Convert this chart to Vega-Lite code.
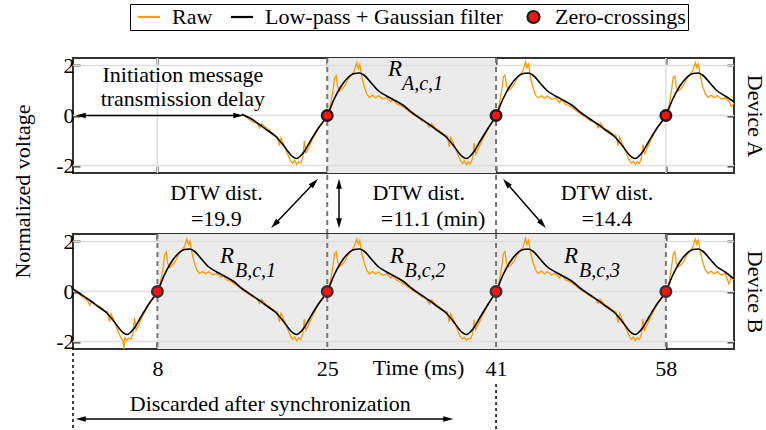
{
"$schema":"https://vega.github.io/schema/vega-lite/v6.json",
"padding":{"left":9,"top":3,"right":0,"bottom":0},
"bounds":"flush",
"spacing":61,
"config":{
 "font":"Liberation Serif",
 "view":{"stroke":"#333","strokeWidth":2},
 "axis":{"domain":false,"grid":false,"labelFont":"Liberation Serif","labelFontSize":22,"labelColor":"#000","titleFont":"Liberation Serif","titleFontSize":22,"titleFontWeight":"normal","titleColor":"#000","tickColor":"#333","tickWidth":2,"tickSize":-7,"labelPadding":6},
 "legend":{"labelFont":"Liberation Serif","labelFontSize":22,"labelColor":"#000"},
 "text":{"font":"Liberation Serif","fontSize":22,"color":"#000"}
},
"resolve":{"scale":{"fill":"shared","stroke":"shared","shape":"shared"},"legend":{"fill":"shared","stroke":"shared","shape":"shared"}},
"datasets":{
 "zcA":[{"t":25.0,"v":0},{"t":41.6,"v":0},{"t":58.3,"v":0}],
 "zcB":[{"t":8.3,"v":0},{"t":25.0,"v":0},{"t":41.6,"v":0},{"t":58.3,"v":0}],
 "filtA":[
{"t":16.6,"v":0.05},{"t":17.47,"v":-0.12},{"t":18.3,"v":-0.35},{"t":19.13,"v":-0.6},{"t":19.97,"v":-0.85},{"t":20.8,"v":-1.25},{"t":21.47,"v":-1.6},{"t":21.97,"v":-1.72},{"t":22.63,"v":-1.5},{"t":23.3,"v":-1.05},{"t":24.13,"v":-0.5},
{"t":25.0,"v":0},{"t":25.67,"v":0.65},{"t":26.33,"v":1.15},{"t":27.0,"v":1.5},{"t":27.67,"v":1.68},{"t":28.17,"v":1.7},{"t":28.67,"v":1.6},{"t":29.33,"v":1.3},{"t":30.0,"v":1.0},{"t":30.83,"v":0.78},{"t":31.67,"v":0.6},{"t":32.5,"v":0.4},{"t":33.33,"v":0.12},{"t":34.17,"v":-0.12},{"t":35.0,"v":-0.35},{"t":35.83,"v":-0.6},{"t":36.67,"v":-0.85},{"t":37.5,"v":-1.25},{"t":38.17,"v":-1.6},{"t":38.67,"v":-1.72},{"t":39.33,"v":-1.5},{"t":40.0,"v":-1.05},{"t":40.83,"v":-0.5},
{"t":41.6,"v":0},{"t":42.27,"v":0.65},{"t":42.93,"v":1.15},{"t":43.6,"v":1.5},{"t":44.27,"v":1.68},{"t":44.77,"v":1.7},{"t":45.27,"v":1.6},{"t":45.93,"v":1.3},{"t":46.6,"v":1.0},{"t":47.43,"v":0.78},{"t":48.27,"v":0.6},{"t":49.1,"v":0.4},{"t":49.93,"v":0.12},{"t":50.77,"v":-0.12},{"t":51.6,"v":-0.35},{"t":52.43,"v":-0.6},{"t":53.27,"v":-0.85},{"t":54.1,"v":-1.25},{"t":54.77,"v":-1.6},{"t":55.27,"v":-1.72},{"t":55.93,"v":-1.5},{"t":56.6,"v":-1.05},{"t":57.43,"v":-0.5},
{"t":58.3,"v":0},{"t":58.97,"v":0.65},{"t":59.63,"v":1.15},{"t":60.3,"v":1.5},{"t":60.97,"v":1.68},{"t":61.47,"v":1.7},{"t":61.97,"v":1.6},{"t":62.63,"v":1.3},{"t":63.3,"v":1.0},{"t":64.13,"v":0.78},{"t":65.0,"v":0.55}
 ],
 "filtB":[
{"t":0,"v":0.1},{"t":0.8,"v":-0.12},{"t":1.63,"v":-0.35},{"t":2.46,"v":-0.6},{"t":3.3,"v":-0.85},{"t":4.13,"v":-1.25},{"t":4.8,"v":-1.6},{"t":5.3,"v":-1.72},{"t":5.96,"v":-1.5},{"t":6.63,"v":-1.05},{"t":7.46,"v":-0.5},
{"t":8.3,"v":0},{"t":8.97,"v":0.65},{"t":9.63,"v":1.15},{"t":10.3,"v":1.5},{"t":10.97,"v":1.68},{"t":11.47,"v":1.7},{"t":11.97,"v":1.6},{"t":12.63,"v":1.3},{"t":13.3,"v":1.0},{"t":14.13,"v":0.78},{"t":14.97,"v":0.6},{"t":15.8,"v":0.4},{"t":16.63,"v":0.12},{"t":17.47,"v":-0.12},{"t":18.3,"v":-0.35},{"t":19.13,"v":-0.6},{"t":19.97,"v":-0.85},{"t":20.8,"v":-1.25},{"t":21.47,"v":-1.6},{"t":21.97,"v":-1.72},{"t":22.63,"v":-1.5},{"t":23.3,"v":-1.05},{"t":24.13,"v":-0.5},
{"t":25.0,"v":0},{"t":25.67,"v":0.65},{"t":26.33,"v":1.15},{"t":27.0,"v":1.5},{"t":27.67,"v":1.68},{"t":28.17,"v":1.7},{"t":28.67,"v":1.6},{"t":29.33,"v":1.3},{"t":30.0,"v":1.0},{"t":30.83,"v":0.78},{"t":31.67,"v":0.6},{"t":32.5,"v":0.4},{"t":33.33,"v":0.12},{"t":34.17,"v":-0.12},{"t":35.0,"v":-0.35},{"t":35.83,"v":-0.6},{"t":36.67,"v":-0.85},{"t":37.5,"v":-1.25},{"t":38.17,"v":-1.6},{"t":38.67,"v":-1.72},{"t":39.33,"v":-1.5},{"t":40.0,"v":-1.05},{"t":40.83,"v":-0.5},
{"t":41.6,"v":0},{"t":42.27,"v":0.65},{"t":42.93,"v":1.15},{"t":43.6,"v":1.5},{"t":44.27,"v":1.68},{"t":44.77,"v":1.7},{"t":45.27,"v":1.6},{"t":45.93,"v":1.3},{"t":46.6,"v":1.0},{"t":47.43,"v":0.78},{"t":48.27,"v":0.6},{"t":49.1,"v":0.4},{"t":49.93,"v":0.12},{"t":50.77,"v":-0.12},{"t":51.6,"v":-0.35},{"t":52.43,"v":-0.6},{"t":53.27,"v":-0.85},{"t":54.1,"v":-1.25},{"t":54.77,"v":-1.6},{"t":55.27,"v":-1.72},{"t":55.93,"v":-1.5},{"t":56.6,"v":-1.05},{"t":57.43,"v":-0.5},
{"t":58.3,"v":0},{"t":58.97,"v":0.65},{"t":59.63,"v":1.15},{"t":60.3,"v":1.5},{"t":60.97,"v":1.68},{"t":61.47,"v":1.7},{"t":61.97,"v":1.6},{"t":62.63,"v":1.3},{"t":63.3,"v":1.0},{"t":64.13,"v":0.78},{"t":65.0,"v":0.5}
 ],
 "rawA":[
{"t":16.6,"v":0.05},{"t":17.1,"v":-0.08},{"t":17.6,"v":-0.25},{"t":18.1,"v":-0.3},{"t":18.35,"v":-0.5},{"t":18.55,"v":-0.33},{"t":18.95,"v":-0.48},{"t":19.35,"v":-0.6},{"t":19.75,"v":-0.78},{"t":20.1,"v":-0.85},{"t":20.3,"v":-1.2},{"t":20.45,"v":-0.9},{"t":20.75,"v":-1.2},{"t":21.1,"v":-1.55},{"t":21.4,"v":-1.82},{"t":21.6,"v":-1.9},{"t":21.8,"v":-1.8},{"t":22.0,"v":-1.95},{"t":22.2,"v":-1.85},{"t":22.4,"v":-1.9},{"t":22.6,"v":-1.7},{"t":22.75,"v":-1.0},{"t":22.9,"v":-1.5},{"t":23.2,"v":-1.28},{"t":23.55,"v":-0.95},{"t":23.95,"v":-0.65},{"t":24.35,"v":-0.4},{"t":24.7,"v":-0.18},
{"t":25.0,"v":0.02},{"t":25.3,"v":0.35},{"t":25.55,"v":0.95},{"t":25.72,"v":1.5},{"t":25.88,"v":1.6},{"t":26.02,"v":1.15},{"t":26.2,"v":0.98},{"t":26.45,"v":1.05},{"t":26.75,"v":1.2},{"t":27.05,"v":1.45},{"t":27.35,"v":1.6},{"t":27.65,"v":1.78},{"t":27.9,"v":2.12},{"t":28.05,"v":1.88},{"t":28.2,"v":2.05},{"t":28.4,"v":1.55},{"t":28.65,"v":1.15},{"t":28.9,"v":0.85},{"t":29.15,"v":0.72},{"t":29.45,"v":0.82},{"t":29.75,"v":0.7},{"t":30.05,"v":0.8},{"t":30.45,"v":0.66},{"t":30.85,"v":0.72},{"t":31.25,"v":0.55},{"t":31.45,"v":0.66},{"t":31.85,"v":0.46},{"t":32.3,"v":0.38},{"t":32.8,"v":0.24},{"t":33.3,"v":0.08},{"t":33.8,"v":-0.05},{"t":34.3,"v":-0.2},{"t":34.8,"v":-0.3},{"t":35.05,"v":-0.48},{"t":35.25,"v":-0.32},{"t":35.65,"v":-0.5},{"t":36.05,"v":-0.62},{"t":36.45,"v":-0.75},{"t":36.8,"v":-0.82},{"t":37.0,"v":-1.25},{"t":37.15,"v":-0.88},{"t":37.45,"v":-1.15},{"t":37.8,"v":-1.5},{"t":38.1,"v":-1.8},{"t":38.3,"v":-1.92},{"t":38.5,"v":-1.82},{"t":38.7,"v":-1.96},{"t":38.9,"v":-1.86},{"t":39.1,"v":-1.92},{"t":39.3,"v":-1.7},{"t":39.45,"v":-1.1},{"t":39.6,"v":-1.55},{"t":39.9,"v":-1.3},{"t":40.25,"v":-0.98},{"t":40.65,"v":-0.66},{"t":41.05,"v":-0.38},{"t":41.4,"v":-0.15},
{"t":41.6,"v":0.02},{"t":41.9,"v":0.4},{"t":42.15,"v":1.0},{"t":42.32,"v":1.55},{"t":42.48,"v":1.62},{"t":42.62,"v":1.2},{"t":42.8,"v":1.0},{"t":43.05,"v":1.08},{"t":43.35,"v":1.22},{"t":43.65,"v":1.48},{"t":43.95,"v":1.62},{"t":44.25,"v":1.8},{"t":44.5,"v":2.15},{"t":44.65,"v":1.9},{"t":44.8,"v":2.05},{"t":45.0,"v":1.5},{"t":45.25,"v":1.1},{"t":45.5,"v":0.8},{"t":45.75,"v":0.7},{"t":46.05,"v":0.8},{"t":46.35,"v":0.68},{"t":46.65,"v":0.78},{"t":47.05,"v":0.65},{"t":47.45,"v":0.7},{"t":47.85,"v":0.52},{"t":48.05,"v":0.64},{"t":48.45,"v":0.44},{"t":48.9,"v":0.36},{"t":49.4,"v":0.22},{"t":49.9,"v":0.06},{"t":50.4,"v":-0.06},{"t":50.9,"v":-0.22},{"t":51.4,"v":-0.3},{"t":51.65,"v":-0.5},{"t":51.85,"v":-0.3},{"t":52.25,"v":-0.52},{"t":52.65,"v":-0.6},{"t":53.05,"v":-0.74},{"t":53.4,"v":-0.8},{"t":53.6,"v":-1.2},{"t":53.75,"v":-0.85},{"t":54.05,"v":-1.15},{"t":54.4,"v":-1.52},{"t":54.7,"v":-1.8},{"t":54.9,"v":-1.9},{"t":55.1,"v":-1.84},{"t":55.3,"v":-1.95},{"t":55.5,"v":-1.85},{"t":55.7,"v":-1.92},{"t":55.9,"v":-1.68},{"t":56.05,"v":-1.15},{"t":56.2,"v":-1.52},{"t":56.5,"v":-1.28},{"t":56.85,"v":-0.96},{"t":57.25,"v":-0.64},{"t":57.65,"v":-0.36},{"t":58.0,"v":-0.14},
{"t":58.3,"v":0.02},{"t":58.6,"v":0.38},{"t":58.85,"v":0.98},{"t":59.02,"v":1.52},{"t":59.18,"v":1.58},{"t":59.32,"v":1.15},{"t":59.5,"v":0.98},{"t":59.75,"v":1.05},{"t":60.05,"v":1.22},{"t":60.35,"v":1.45},{"t":60.65,"v":1.62},{"t":60.95,"v":1.8},{"t":61.2,"v":2.12},{"t":61.35,"v":1.9},{"t":61.5,"v":2.05},{"t":61.7,"v":1.55},{"t":61.95,"v":1.12},{"t":62.2,"v":0.85},{"t":62.45,"v":0.72},{"t":62.75,"v":0.82},{"t":63.05,"v":0.7},{"t":63.35,"v":0.8},{"t":63.75,"v":0.66},{"t":64.15,"v":0.7},{"t":64.55,"v":0.55},{"t":64.75,"v":0.35},{"t":65.0,"v":0.5}
 ],
 "rawB":[
{"t":0.0,"v":0.08},{"t":0.45,"v":-0.05},{"t":0.95,"v":-0.22},{"t":1.4,"v":-0.35},{"t":1.65,"v":-0.55},{"t":1.85,"v":-0.38},{"t":2.25,"v":-0.52},{"t":2.65,"v":-0.62},{"t":3.05,"v":-0.76},{"t":3.4,"v":-0.82},{"t":3.6,"v":-1.2},{"t":3.75,"v":-0.9},{"t":4.05,"v":-1.18},{"t":4.4,"v":-1.55},{"t":4.7,"v":-1.85},{"t":4.9,"v":-1.95},{"t":5.0,"v":-2.3},{"t":5.1,"v":-1.85},{"t":5.3,"v":-1.95},{"t":5.5,"v":-1.86},{"t":5.7,"v":-1.9},{"t":5.9,"v":-1.68},{"t":6.05,"v":-1.05},{"t":6.2,"v":-1.55},{"t":6.5,"v":-1.3},{"t":6.85,"v":-0.98},{"t":7.25,"v":-0.66},{"t":7.65,"v":-0.38},{"t":8.0,"v":-0.15},
{"t":8.3,"v":0.02},{"t":8.6,"v":0.35},{"t":8.85,"v":0.95},{"t":9.02,"v":1.48},{"t":9.18,"v":1.58},{"t":9.32,"v":1.12},{"t":9.5,"v":0.96},{"t":9.75,"v":1.04},{"t":10.05,"v":1.2},{"t":10.35,"v":1.45},{"t":10.65,"v":1.62},{"t":10.95,"v":1.78},{"t":11.2,"v":2.1},{"t":11.35,"v":1.88},{"t":11.5,"v":2.02},{"t":11.7,"v":1.55},{"t":11.95,"v":1.12},{"t":12.2,"v":0.85},{"t":12.45,"v":0.72},{"t":12.75,"v":0.8},{"t":13.05,"v":0.7},{"t":13.35,"v":0.8},{"t":13.75,"v":0.66},{"t":14.15,"v":0.72},{"t":14.55,"v":0.56},{"t":14.75,"v":0.64},{"t":15.15,"v":0.46},{"t":15.6,"v":0.38},{"t":16.1,"v":0.24},{"t":16.6,"v":0.08},{"t":17.1,"v":-0.06},{"t":17.6,"v":-0.2},{"t":18.1,"v":-0.3},{"t":18.35,"v":-0.48},{"t":18.55,"v":-0.32},{"t":18.95,"v":-0.5},{"t":19.35,"v":-0.62},{"t":19.75,"v":-0.75},{"t":20.1,"v":-0.82},{"t":20.3,"v":-1.22},{"t":20.45,"v":-0.88},{"t":20.75,"v":-1.15},{"t":21.1,"v":-1.5},{"t":21.4,"v":-1.8},{"t":21.6,"v":-1.9},{"t":21.8,"v":-1.82},{"t":22.0,"v":-1.96},{"t":22.2,"v":-1.85},{"t":22.4,"v":-1.92},{"t":22.6,"v":-1.7},{"t":22.75,"v":-1.1},{"t":22.9,"v":-1.55},{"t":23.2,"v":-1.3},{"t":23.55,"v":-0.98},{"t":23.95,"v":-0.66},{"t":24.35,"v":-0.38},{"t":24.7,"v":-0.15},
{"t":25.0,"v":0.02},{"t":25.3,"v":0.38},{"t":25.55,"v":0.98},{"t":25.72,"v":1.52},{"t":25.88,"v":1.6},{"t":26.02,"v":1.18},{"t":26.2,"v":1.0},{"t":26.45,"v":1.06},{"t":26.75,"v":1.22},{"t":27.05,"v":1.46},{"t":27.35,"v":1.62},{"t":27.65,"v":1.8},{"t":27.9,"v":2.1},{"t":28.05,"v":1.9},{"t":28.2,"v":2.04},{"t":28.4,"v":1.52},{"t":28.65,"v":1.12},{"t":28.9,"v":0.84},{"t":29.15,"v":0.7},{"t":29.45,"v":0.8},{"t":29.75,"v":0.7},{"t":30.05,"v":0.78},{"t":30.45,"v":0.65},{"t":30.85,"v":0.7},{"t":31.25,"v":0.54},{"t":31.45,"v":0.64},{"t":31.85,"v":0.45},{"t":32.3,"v":0.36},{"t":32.8,"v":0.22},{"t":33.3,"v":0.07},{"t":33.8,"v":-0.06},{"t":34.3,"v":-0.2},{"t":34.8,"v":-0.32},{"t":35.05,"v":-0.5},{"t":35.25,"v":-0.33},{"t":35.65,"v":-0.5},{"t":36.05,"v":-0.63},{"t":36.45,"v":-0.76},{"t":36.8,"v":-0.83},{"t":37.0,"v":-1.22},{"t":37.15,"v":-0.9},{"t":37.45,"v":-1.16},{"t":37.8,"v":-1.52},{"t":38.1,"v":-1.82},{"t":38.3,"v":-1.9},{"t":38.5,"v":-1.84},{"t":38.7,"v":-1.95},{"t":38.9,"v":-1.87},{"t":39.1,"v":-1.9},{"t":39.3,"v":-1.68},{"t":39.45,"v":-1.12},{"t":39.6,"v":-1.52},{"t":39.9,"v":-1.28},{"t":40.25,"v":-0.97},{"t":40.65,"v":-0.65},{"t":41.05,"v":-0.37},{"t":41.4,"v":-0.14},
{"t":41.6,"v":0.02},{"t":41.9,"v":0.36},{"t":42.15,"v":0.96},{"t":42.32,"v":1.5},{"t":42.48,"v":1.6},{"t":42.62,"v":1.15},{"t":42.8,"v":0.98},{"t":43.05,"v":1.05},{"t":43.35,"v":1.2},{"t":43.65,"v":1.45},{"t":43.95,"v":1.6},{"t":44.25,"v":1.78},{"t":44.5,"v":2.12},{"t":44.65,"v":1.88},{"t":44.8,"v":2.04},{"t":45.0,"v":1.55},{"t":45.25,"v":1.15},{"t":45.5,"v":0.85},{"t":45.75,"v":0.72},{"t":46.05,"v":0.82},{"t":46.35,"v":0.7},{"t":46.65,"v":0.8},{"t":47.05,"v":0.66},{"t":47.45,"v":0.72},{"t":47.85,"v":0.55},{"t":48.05,"v":0.66},{"t":48.45,"v":0.46},{"t":48.9,"v":0.38},{"t":49.4,"v":0.24},{"t":49.9,"v":0.08},{"t":50.4,"v":-0.05},{"t":50.9,"v":-0.2},{"t":51.4,"v":-0.3},{"t":51.65,"v":-0.48},{"t":51.85,"v":-0.32},{"t":52.25,"v":-0.5},{"t":52.65,"v":-0.62},{"t":53.05,"v":-0.75},{"t":53.4,"v":-0.82},{"t":53.6,"v":-1.25},{"t":53.75,"v":-0.88},{"t":54.05,"v":-1.15},{"t":54.4,"v":-1.5},{"t":54.7,"v":-1.8},{"t":54.9,"v":-1.92},{"t":55.1,"v":-1.82},{"t":55.3,"v":-1.96},{"t":55.5,"v":-1.86},{"t":55.7,"v":-1.92},{"t":55.9,"v":-1.7},{"t":56.05,"v":-1.1},{"t":56.2,"v":-1.55},{"t":56.5,"v":-1.3},{"t":56.85,"v":-0.98},{"t":57.25,"v":-0.66},{"t":57.65,"v":-0.38},{"t":58.0,"v":-0.15},
{"t":58.3,"v":0.02},{"t":58.6,"v":0.35},{"t":58.85,"v":0.95},{"t":59.02,"v":1.5},{"t":59.18,"v":1.6},{"t":59.32,"v":1.15},{"t":59.5,"v":0.98},{"t":59.75,"v":1.05},{"t":60.05,"v":1.2},{"t":60.35,"v":1.45},{"t":60.65,"v":1.6},{"t":60.95,"v":1.78},{"t":61.2,"v":2.1},{"t":61.35,"v":1.88},{"t":61.5,"v":2.05},{"t":61.7,"v":1.55},{"t":61.95,"v":1.15},{"t":62.2,"v":0.85},{"t":62.45,"v":0.72},{"t":62.75,"v":0.82},{"t":63.05,"v":0.7},{"t":63.35,"v":0.8},{"t":63.75,"v":0.66},{"t":64.15,"v":0.72},{"t":64.5,"v":0.3},{"t":64.7,"v":0.55},{"t":65.0,"v":0.48}
 ],
 "arrA":[
  {"id":"init","t1":0.88,"v1":0,"t2":16.13,"v2":0},
  {"id":"d1","t1":19.91,"v1":-4.32,"t2":23.65,"v2":-2.72},
  {"id":"d2","t1":26.16,"v1":-4.26,"t2":26.16,"v2":-2.78},
  {"id":"d3","t1":46.09,"v1":-4.31,"t2":42.7,"v2":-2.73}
 ],
 "arrB":[{"id":"dis","t1":0.88,"v1":-5.1,"t2":36.78,"v2":-5.1}]
},
"vconcat":[
{
 "width":661,"height":115,
 "resolve":{"axis":{"x":"independent","y":"independent"}},
 "layer":[
  {"data":{"values":[{"t1":25.0,"t2":41.6}]},"mark":{"type":"rect","fill":"#ebebeb"},
   "encoding":{"x":{"field":"t1","type":"quantitative","axis":null,"scale":{"domain":[0,65],"nice":false,"zero":false}},"x2":{"field":"t2"}}},
  {"data":{"values":[{"g":-2},{"g":0},{"g":2}]},"mark":{"type":"rule","stroke":"#dedede","strokeWidth":1.5},
   "encoding":{"y":{"field":"g","type":"quantitative","axis":null,"scale":{"domain":[-2.3,2.3],"nice":false,"zero":false}}}},
  {"data":{"values":[{"g":8.3},{"g":58.3}]},"mark":{"type":"rule","stroke":"#dedede","strokeWidth":1.5},
   "encoding":{"x":{"field":"g","type":"quantitative","axis":null}}},
  {"data":{"values":[{"t":25.0,"a":2.3,"b":-4.74},{"t":41.6,"a":2.3,"b":-4.74}]},"mark":{"type":"rule","stroke":"#777","strokeWidth":2,"strokeDash":[5,4]},
   "encoding":{"x":{"field":"t","type":"quantitative","axis":null},"y":{"field":"a","type":"quantitative","axis":null},"y2":{"field":"b"}}},
  {"data":{"name":"rawA"},"mark":{"type":"line","strokeWidth":1.3,"stroke":"#ff9900"},
   "encoding":{
    "x":{"field":"t","type":"quantitative","axis":{"orient":"bottom","values":[8.3,25,41.6,58.3],"labels":false,"title":null}},
    "y":{"field":"v","type":"quantitative","axis":{"orient":"left","values":[-2,0,2],"labelExpr":"'' + datum.value","title":"Normalized voltage","titleX":-51,"titleY":133,"titleBaseline":"middle","titleAlign":"center","titleAngle":-90}}}},
  {"data":{"name":"filtA"},"mark":{"type":"line","strokeWidth":1.6,"interpolate":"monotone","stroke":"#000"},
   "encoding":{
    "x":{"field":"t","type":"quantitative","axis":{"orient":"top","values":[8.3,25,41.6,58.3],"labels":false,"title":null}},
    "y":{"field":"v","type":"quantitative","axis":{"orient":"right","values":[-2,0,2],"labels":false,"title":"Device A","titleAngle":90,"titleX":20,"titleY":57.5,"titleBaseline":"middle","titleAlign":"center"}}}},
  {"data":{"name":"zcA"},"mark":{"type":"point","shape":"circle","filled":true,"fill":"#ff1111","stroke":"#1a1a1a","strokeWidth":2.5,"size":110,"opacity":1},
   "encoding":{"x":{"field":"t","type":"quantitative","axis":null},"y":{"field":"v","type":"quantitative","axis":null}}},
  {"data":{"values":[]},"mark":{"type":"point","filled":true,"opacity":1},
   "encoding":{"x":{"field":"t","type":"quantitative","axis":null},"y":{"field":"v","type":"quantitative","axis":null},
    "fill":{"field":"s","type":"nominal","scale":{"domain":["Raw","Low-pass + Gaussian filter","Zero-crossings"],"range":["#ff9900","#000000","#ff1111"]},
      "legend":{"orient":"none","legendX":57,"legendY":-54,"direction":"horizontal","title":null,"strokeColor":"#000","padding":2,"columnPadding":12,"labelOffset":18,"labelLimit":600,"symbolSize":100,"symbolStrokeWidth":2.2,"symbolOpacity":1}},
    "stroke":{"field":"s","type":"nominal","scale":{"domain":["Raw","Low-pass + Gaussian filter","Zero-crossings"],"range":["#ff9900","#000000","#1a1a1a"]}},
    "shape":{"field":"s","type":"nominal","scale":{"domain":["Raw","Low-pass + Gaussian filter","Zero-crossings"],"range":["M-1,0L3.4,0","M-1,0L3.4,0","M2.7,0A1.2,1.2,0,1,1,0.3,0A1.2,1.2,0,1,1,2.7,0Z"]}}}},
  {"data":{"values":[
    {"t":10.8,"v":1.62,"txt":"Initiation message"},
    {"t":10.8,"v":0.66,"txt":"transmission delay"},
    {"t":14.1,"v":-3.1,"txt":"DTW dist."},
    {"t":14.1,"v":-4.14,"txt":"=19.9"},
    {"t":34.0,"v":-3.1,"txt":"DTW dist."},
    {"t":35.4,"v":-4.14,"txt":"=11.1 (min)"},
    {"t":52.5,"v":-3.1,"txt":"DTW dist."},
    {"t":52.5,"v":-4.14,"txt":"=14.4"}]},
   "mark":{"type":"text","align":"center","baseline":"middle","fontSize":22},
   "encoding":{"x":{"field":"t","type":"quantitative","axis":null},"y":{"field":"v","type":"quantitative","axis":null},"text":{"field":"txt"}}},
  {"data":{"values":[{"t":30.97,"v":1.88,"txt":"R"}]},"mark":{"type":"text","align":"left","baseline":"middle","fontSize":23,"fontStyle":"italic"},
   "encoding":{"x":{"field":"t","type":"quantitative","axis":null},"y":{"field":"v","type":"quantitative","axis":null},"text":{"field":"txt"}}},
  {"data":{"values":[{"t":32.35,"v":1.26,"txt":"A,c,1"}]},"mark":{"type":"text","align":"left","baseline":"middle","fontSize":20,"fontStyle":"italic"},
   "encoding":{"x":{"field":"t","type":"quantitative","axis":null},"y":{"field":"v","type":"quantitative","axis":null},"text":{"field":"txt"}}},
  {"data":{"name":"arrA"},"mark":{"type":"rule","stroke":"#000","strokeWidth":1.5},
   "encoding":{"x":{"field":"t1","type":"quantitative","axis":null},"x2":{"field":"t2"},"y":{"field":"v1","type":"quantitative","axis":null},"y2":{"field":"v2"}}},
  {"data":{"name":"arrA"},"transform":[{"filter":"datum.id === 'init'"}],"mark":{"type":"point","shape":"M0,-1L0.45,0.6L-0.45,0.6Z","filled":true,"fill":"#000","strokeWidth":0,"opacity":1,"size":160,"angle":270},
   "encoding":{"x":{"field":"t1","type":"quantitative","axis":null},"y":{"field":"v1","type":"quantitative","axis":null}}},
  {"data":{"name":"arrA"},"transform":[{"filter":"datum.id === 'init'"}],"mark":{"type":"point","shape":"M0,-1L0.45,0.6L-0.45,0.6Z","filled":true,"fill":"#000","strokeWidth":0,"opacity":1,"size":160,"angle":90},
   "encoding":{"x":{"field":"t2","type":"quantitative","axis":null},"y":{"field":"v2","type":"quantitative","axis":null}}},
  {"data":{"name":"arrA"},"transform":[{"filter":"datum.id === 'd1'"}],"mark":{"type":"point","shape":"M0,-1L0.45,0.6L-0.45,0.6Z","filled":true,"fill":"#000","strokeWidth":0,"opacity":1,"size":160,"angle":224},
   "encoding":{"x":{"field":"t1","type":"quantitative","axis":null},"y":{"field":"v1","type":"quantitative","axis":null}}},
  {"data":{"name":"arrA"},"transform":[{"filter":"datum.id === 'd1'"}],"mark":{"type":"point","shape":"M0,-1L0.45,0.6L-0.45,0.6Z","filled":true,"fill":"#000","strokeWidth":0,"opacity":1,"size":160,"angle":44},
   "encoding":{"x":{"field":"t2","type":"quantitative","axis":null},"y":{"field":"v2","type":"quantitative","axis":null}}},
  {"data":{"name":"arrA"},"transform":[{"filter":"datum.id === 'd2'"}],"mark":{"type":"point","shape":"M0,-1L0.45,0.6L-0.45,0.6Z","filled":true,"fill":"#000","strokeWidth":0,"opacity":1,"size":160,"angle":180},
   "encoding":{"x":{"field":"t1","type":"quantitative","axis":null},"y":{"field":"v1","type":"quantitative","axis":null}}},
  {"data":{"name":"arrA"},"transform":[{"filter":"datum.id === 'd2'"}],"mark":{"type":"point","shape":"M0,-1L0.45,0.6L-0.45,0.6Z","filled":true,"fill":"#000","strokeWidth":0,"opacity":1,"size":160,"angle":0},
   "encoding":{"x":{"field":"t2","type":"quantitative","axis":null},"y":{"field":"v2","type":"quantitative","axis":null}}},
  {"data":{"name":"arrA"},"transform":[{"filter":"datum.id === 'd3'"}],"mark":{"type":"point","shape":"M0,-1L0.45,0.6L-0.45,0.6Z","filled":true,"fill":"#000","strokeWidth":0,"opacity":1,"size":160,"angle":139},
   "encoding":{"x":{"field":"t1","type":"quantitative","axis":null},"y":{"field":"v1","type":"quantitative","axis":null}}},
  {"data":{"name":"arrA"},"transform":[{"filter":"datum.id === 'd3'"}],"mark":{"type":"point","shape":"M0,-1L0.45,0.6L-0.45,0.6Z","filled":true,"fill":"#000","strokeWidth":0,"opacity":1,"size":160,"angle":319},
   "encoding":{"x":{"field":"t2","type":"quantitative","axis":null},"y":{"field":"v2","type":"quantitative","axis":null}}}
 ]
},
{
 "width":661,"height":115,
 "resolve":{"axis":{"x":"independent","y":"independent"}},
 "layer":[
  {"data":{"values":[{"t1":8.3,"t2":58.3}]},"mark":{"type":"rect","fill":"#ebebeb"},
   "encoding":{"x":{"field":"t1","type":"quantitative","axis":null,"scale":{"domain":[0,65],"nice":false,"zero":false}},"x2":{"field":"t2"}}},
  {"data":{"values":[{"g":-2},{"g":0},{"g":2}]},"mark":{"type":"rule","stroke":"#dedede","strokeWidth":1.5},
   "encoding":{"y":{"field":"g","type":"quantitative","axis":null,"scale":{"domain":[-2.3,2.3],"nice":false,"zero":false}}}},
  {"data":{"values":[{"t":8.3},{"t":25.0},{"t":41.6},{"t":58.3}]},"mark":{"type":"rule","stroke":"#777","strokeWidth":2,"strokeDash":[5,4]},
   "encoding":{"x":{"field":"t","type":"quantitative","axis":null}}},
  {"data":{"values":[{"t":0,"a":-2.46,"b":-5.5},{"t":41.6,"a":-3.7,"b":-5.5}]},"mark":{"type":"rule","stroke":"#000","strokeWidth":1.5,"strokeDash":[3,3]},
   "encoding":{"x":{"field":"t","type":"quantitative","axis":null},"y":{"field":"a","type":"quantitative","axis":null},"y2":{"field":"b"}}},
  {"data":{"name":"rawB"},"mark":{"type":"line","strokeWidth":1.3,"stroke":"#ff9900"},
   "encoding":{
    "x":{"field":"t","type":"quantitative","axis":{"orient":"bottom","values":[8.3,25,41.6,58.3],"labelExpr":"'' + floor(datum.value)","labelPadding":16,"title":"Time (ms)","titleX":345,"titleY":18,"titleBaseline":"middle","titleAlign":"center"}},
    "y":{"field":"v","type":"quantitative","axis":{"orient":"left","values":[-2,0,2],"labelExpr":"'' + datum.value","title":null}}}},
  {"data":{"name":"filtB"},"mark":{"type":"line","strokeWidth":1.6,"interpolate":"monotone","stroke":"#000"},
   "encoding":{
    "x":{"field":"t","type":"quantitative","axis":{"orient":"top","values":[8.3,25,41.6,58.3],"labels":false,"title":null}},
    "y":{"field":"v","type":"quantitative","axis":{"orient":"right","values":[-2,0,2],"labels":false,"title":"Device B","titleAngle":90,"titleX":20,"titleY":57.5,"titleBaseline":"middle","titleAlign":"center"}}}},
  {"data":{"name":"zcB"},"mark":{"type":"point","shape":"circle","filled":true,"fill":"#ff1111","stroke":"#333","strokeWidth":2.5,"size":110,"opacity":1},
   "encoding":{"x":{"field":"t","type":"quantitative","axis":null},"y":{"field":"v","type":"quantitative","axis":null}}},
  {"data":{"values":[{"t":14.45,"v":1.42,"txt":"R"},{"t":31.17,"v":1.42,"txt":"R"},{"t":48.28,"v":1.42,"txt":"R"}]},"mark":{"type":"text","align":"left","baseline":"middle","fontSize":23,"fontStyle":"italic"},
   "encoding":{"x":{"field":"t","type":"quantitative","axis":null},"y":{"field":"v","type":"quantitative","axis":null},"text":{"field":"txt"}}},
  {"data":{"values":[{"t":15.93,"v":0.82,"txt":"B,c,1"},{"t":32.6,"v":0.82,"txt":"B,c,2"},{"t":49.75,"v":0.82,"txt":"B,c,3"}]},"mark":{"type":"text","align":"left","baseline":"middle","fontSize":20,"fontStyle":"italic"},
   "encoding":{"x":{"field":"t","type":"quantitative","axis":null},"y":{"field":"v","type":"quantitative","axis":null},"text":{"field":"txt"}}},
  {"data":{"values":[{"t":19.4,"v":-4.5,"txt":"Discarded after synchronization"}]},"mark":{"type":"text","align":"center","baseline":"middle","fontSize":22},
   "encoding":{"x":{"field":"t","type":"quantitative","axis":null},"y":{"field":"v","type":"quantitative","axis":null},"text":{"field":"txt"}}},
  {"data":{"name":"arrB"},"mark":{"type":"rule","stroke":"#000","strokeWidth":1.5},
   "encoding":{"x":{"field":"t1","type":"quantitative","axis":null},"x2":{"field":"t2"},"y":{"field":"v1","type":"quantitative","axis":null},"y2":{"field":"v2"}}},
  {"data":{"name":"arrB"},"mark":{"type":"point","shape":"M0,-1L0.45,0.6L-0.45,0.6Z","filled":true,"fill":"#000","strokeWidth":0,"opacity":1,"size":160,"angle":270},
   "encoding":{"x":{"field":"t1","type":"quantitative","axis":null},"y":{"field":"v1","type":"quantitative","axis":null}}},
  {"data":{"name":"arrB"},"mark":{"type":"point","shape":"M0,-1L0.45,0.6L-0.45,0.6Z","filled":true,"fill":"#000","strokeWidth":0,"opacity":1,"size":160,"angle":90},
   "encoding":{"x":{"field":"t2","type":"quantitative","axis":null},"y":{"field":"v2","type":"quantitative","axis":null}}}
 ]
}
]
}
